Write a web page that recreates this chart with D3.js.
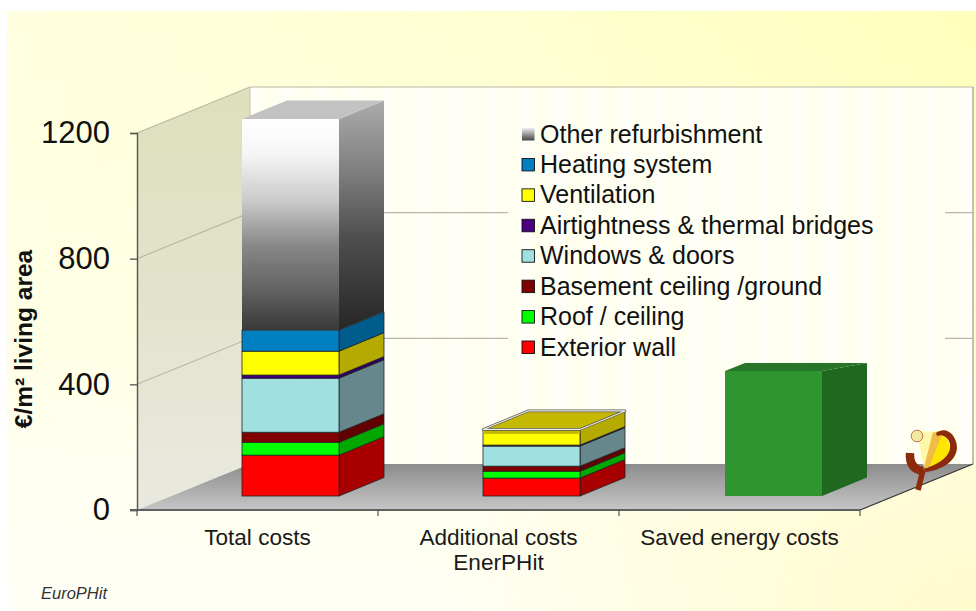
<!DOCTYPE html>
<html><head><meta charset="utf-8">
<script src="https://cdn.jsdelivr.net/npm/d3@7"></script>
<style>html,body{margin:0;background:#fff}svg{display:block}text{font-family:"Liberation Sans",Arial,sans-serif}</style>
</head><body><svg id="c" width="976" height="611"></svg>
<script>
const categories = ["Total costs", "Additional costs\nEnerPHit", "Saved energy costs"];
const seriesNames = ["Exterior wall","Roof / ceiling","Basement ceiling /ground","Windows & doors","Airtightness & thermal bridges","Ventilation","Heating system","Other refurbishment"];
const totalCosts = [130,41,32,172,10,76,67,672];
const additionalCosts = [57,22,16,64,3,50,0,0];
const savedEnergy = [398];
const tickValues = [0,400,800,1200];
const frontColors = ["#ff0000","#00ff00","#800000","#a0e0e0","#400080","#ffff00","#0080c0","url(#otherFront)"];
const sideColors = ["#a80000","#00a800","#600000","#66888c","#300060","#b4aa00","#005c8c","url(#otherSide)"];
const legendFill = ["#ff0000","#00ff00","#800000","#a0e0e0","#4b0082","#ffff00","#0080c0","url(#otherLegend)"];

const svg = d3.select("#c");
const defs = svg.append("defs");
function grad(id, stops, dir){
  const g = defs.append("linearGradient").attr("id",id)
    .attr("x1",dir[0]).attr("y1",dir[1]).attr("x2",dir[2]).attr("y2",dir[3]);
  stops.forEach(s=>g.append("stop").attr("offset",s[0]).attr("stop-color",s[1]).attr("stop-opacity",s[2]===undefined?1:s[2]));
}
const V=[0,0,0,1], H=[0,0,1,0];
grad("bgH",[[0,"#ffffe0"],[.5,"#ffffd2"],[1,"#ffffbc"]],H);
grad("bgV",[[0,"#fffffa",0],[.55,"#fffffa",.25],[.8,"#fffff6",.8],[1,"#fffff8",.9]],V);
const rad=defs.append("radialGradient").attr("id","bgR").attr("cx",1).attr("cy",1).attr("r",.55);
rad.append("stop").attr("offset",0).attr("stop-color","#fffbcc").attr("stop-opacity",1);
rad.append("stop").attr("offset",1).attr("stop-color","#fffbcc").attr("stop-opacity",0);
grad("sideWall",[[0,"#dedfbc"],[.5,"#e3e3cc"],[1,"#e9e9e0"]],V);
grad("floor",[[0,"#8c8c8c"],[1,"#c6c6c6"]],V);
grad("otherFront",[[0,"#ffffff"],[.16,"#f6f6f6"],[.38,"#cccccc"],[.6,"#888888"],[.82,"#606060"],[1,"#383838"]],V);
grad("otherSide",[[0,"#ababab"],[.3,"#808080"],[.6,"#4e4e4e"],[1,"#262626"]],V);
grad("otherLegend",[[0,"#eeeeee"],[1,"#444444"]],V);
const pat = defs.append("pattern").attr("id","stripes").attr("width",34).attr("height",10).attr("patternUnits","userSpaceOnUse");
pat.append("rect").attr("width",34).attr("height",10).attr("fill","#fffff0");
pat.append("rect").attr("x",8).attr("width",14).attr("height",10).attr("fill","#fffff8");

const W=976,H0=611;
// scales
const y = d3.scaleLinear().domain([0,1200]).range([510,133]);
const x = d3.scaleBand().domain(categories).range([137,860]);
const wallDx=113, wallDy=46, barOffX=33, barOffY=14, barW=97, depthX=45, depthY=18.5;
const right=x.range()[1], left=x.range()[0];

// page background
["bgH","bgV","bgR"].forEach(g=>svg.append("rect").attr("x",7).attr("y",11).attr("width",W-7).attr("height",H0-11).attr("fill",`url(#${g})`));

const poly=(pts,fill,stroke,sw)=>svg.append("polygon").attr("points",pts.map(p=>p.join(",")).join(" ")).attr("fill",fill).attr("stroke",stroke||"none").attr("stroke-width",sw||0).attr("stroke-linejoin","round");

// walls + floor
const y0=y(0), yT=y(1200);
poly([[left+wallDx,yT-wallDy],[right+wallDx,yT-wallDy],[right+wallDx,y0-wallDy],[left+wallDx,y0-wallDy]],"url(#stripes)");
poly([[left,yT],[left+wallDx,yT-wallDy],[left+wallDx,y0-wallDy],[left,y0]],"url(#sideWall)");
poly([[left,y0],[left+wallDx,y0-wallDy],[right+wallDx,y0-wallDy],[right,y0]],"url(#floor)");
// gridlines on the walls
tickValues.slice(1).forEach(v=>{
  svg.append("path").attr("fill","none").attr("stroke","#b8b8a4").attr("stroke-width",1.1)
   .attr("d",`M${left},${y(v)}L${left+wallDx},${y(v)-wallDy}L${right+wallDx},${y(v)-wallDy}`);
});
svg.append("path").attr("fill","none").attr("stroke","#a8a89a").attr("stroke-width",1.4)
  .attr("d",`M${right+wallDx},${yT-wallDy}V${y0-wallDy}`);
svg.append("path").attr("fill","none").attr("stroke","#c4c4b0").attr("stroke-width",1)
  .attr("d",`M${left+wallDx},${yT-wallDy}V${y0-wallDy}`);

// axes
const yAxis=d3.axisLeft(y).tickValues(tickValues).tickSize(7).tickPadding(20).tickFormat(d3.format("d"));
const ga=svg.append("g").attr("transform",`translate(${left},0)`).call(yAxis);
ga.select(".domain").attr("stroke","#555").attr("stroke-width",1.4);
ga.selectAll(".tick line").attr("stroke","#555").attr("stroke-width",1.3);
ga.selectAll(".tick text").attr("font-size",31).attr("font-family","Liberation Sans").attr("fill","#111");
svg.append("path").attr("d",`M${left-7},${y0}H${right}`).attr("fill","none").attr("stroke","#606060").attr("stroke-width",2);
svg.append("path").attr("d",`M${right},${y0}L${right+wallDx},${y0-wallDy}`).attr("fill","none").attr("stroke","#333").attr("stroke-width",1.2);
const xTicks=categories.map(c=>x(c)).concat([right]);
svg.selectAll(".xt").data(xTicks).join("line").attr("x1",d=>d).attr("x2",d=>d).attr("y1",y0).attr("y2",y0+6).attr("stroke","#555").attr("stroke-width",1.2);
categories.forEach(c=>{
  const t=svg.append("text").attr("text-anchor","middle").attr("font-size",22.6).attr("fill","#1a1a1a");
  c.split("\n").forEach((l,i)=>t.append("tspan").attr("x",x(c)+x.bandwidth()/2).attr("y",544.5+i*25).text(l));
});
svg.append("text").attr("transform","translate(32,339) rotate(-90)").attr("text-anchor","middle").attr("font-size",24.5).attr("font-weight","bold").attr("fill","#111").text("€/m² living area");
svg.append("text").attr("x",41).attr("y",599).attr("font-size",16.5).attr("font-style","italic").attr("fill","#333").text("EuroPHit");

// bars
function barX(c){return x(c)+x.bandwidth()/2-barW/2+barOffX;}
function stackBar(c,vals){
  const bx=barX(c); let cum=0; let topY=y(0)-barOffY;
  vals.forEach((v,i)=>{
    if(!v) return;
    const y1=y(cum)-barOffY; cum+=v; const y2=y(cum)-barOffY; topY=y2;
    const stroke=i===7?"none":"#222";
    poly([[bx+barW,y1],[bx+barW+depthX,y1-depthY],[bx+barW+depthX,y2-depthY],[bx+barW,y2]],sideColors[i],stroke,.8);
    svg.append("rect").attr("x",bx).attr("y",y2).attr("width",barW).attr("height",y1-y2).attr("fill",frontColors[i]).attr("stroke",stroke).attr("stroke-width",.8);
  });
  return topY;
}
const b0=categories[0], b1=categories[1], b2=categories[2];
// legend panel covers the wall gridlines
svg.append("rect").attr("x",508).attr("y",118).attr("width",437).attr("height",245).attr("fill","url(#stripes)");
// Total costs
let t0=stackBar(b0,totalCosts);
poly([[barX(b0),t0],[barX(b0)+depthX,t0-depthY],[barX(b0)+barW+depthX,t0-depthY],[barX(b0)+barW,t0]],"#c2c2c2");
// Additional costs
let t1=stackBar(b1,additionalCosts);
const capDrop=4.5, b1x=barX(b1);
svg.append("rect").attr("x",b1x).attr("y",t1).attr("width",barW).attr("height",capDrop).attr("fill","#c4b800");
poly([[b1x,t1],[b1x+depthX,t1-depthY],[b1x+barW+depthX,t1-depthY],[b1x+barW,t1]],"#c4b800","#555",2.6);
poly([[b1x,t1],[b1x+depthX,t1-depthY],[b1x+barW+depthX,t1-depthY],[b1x+barW,t1]],"none","#eeeee0",1.1);
// Saved energy: flat top in the reference
const gx=barX(b2)+1, gy=y(savedEnergy[0])-barOffY, gb=y(0)-barOffY, topDy=8, topBackDx=20;
poly([[gx+barW,gb],[gx+barW+depthX,gb-depthY],[gx+barW+depthX,gy-topDy],[gx+barW,gy]],"#206820");
poly([[gx,gy],[gx+topBackDx,gy-topDy],[gx+barW+depthX,gy-topDy],[gx+barW,gy]],"#287428");
svg.append("rect").attr("x",gx).attr("y",gy).attr("width",barW).attr("height",gb-gy).attr("fill","#2f962f");

// legend
const legendOrder=d3.range(seriesNames.length).reverse();
const ly=d3.scalePoint().domain(legendOrder).range([134,347]);
const lg=svg.selectAll(".lg").data(legendOrder).join("g").attr("transform",d=>`translate(0,${ly(d)})`);
lg.append("rect").attr("x",522).attr("y",-6).attr("width",12.5).attr("height",12.5)
  .attr("fill",d=>legendFill[d]).attr("stroke",d=>d===7?"none":"#111").attr("stroke-width",.9);
lg.append("text").attr("x",540).attr("y",8.5).attr("font-size",25).attr("fill","#111").text(d=>seriesNames[d]);

// logo
const logo=svg.append("g");
logo.append("path").attr("d","M917,431L939,432L924,468Z").attr("fill","#fff8a8");
logo.append("path").attr("d","M936,431C952,436 952,452 946,460C939,467 932,469 925,468Z").attr("fill","#ffe600");
logo.append("path").attr("d","M933,432L942,434L929,468L924,467Z").attr("fill","#f0bc48");
logo.append("path").attr("d","M936,433C946,425 957,435 957,448C956,462 941,470 926,472L923,469C935,466 950,458 950,447C951,440 944,433 937,436Z").attr("fill","#8c2a0e");
logo.append("path").attr("d","M910,453Q909,469 923,471").attr("fill","none").attr("stroke","#8c2a0e").attr("stroke-width",8.5);
logo.append("path").attr("d","M923,470L918,490").attr("fill","none").attr("stroke","#8c2a0e").attr("stroke-width",5.5);
logo.append("circle").attr("cx",917).attr("cy",436).attr("r",5.8).attr("fill","#f4e8a0").attr("stroke","#b87850").attr("stroke-width",1);
</script></body></html>
